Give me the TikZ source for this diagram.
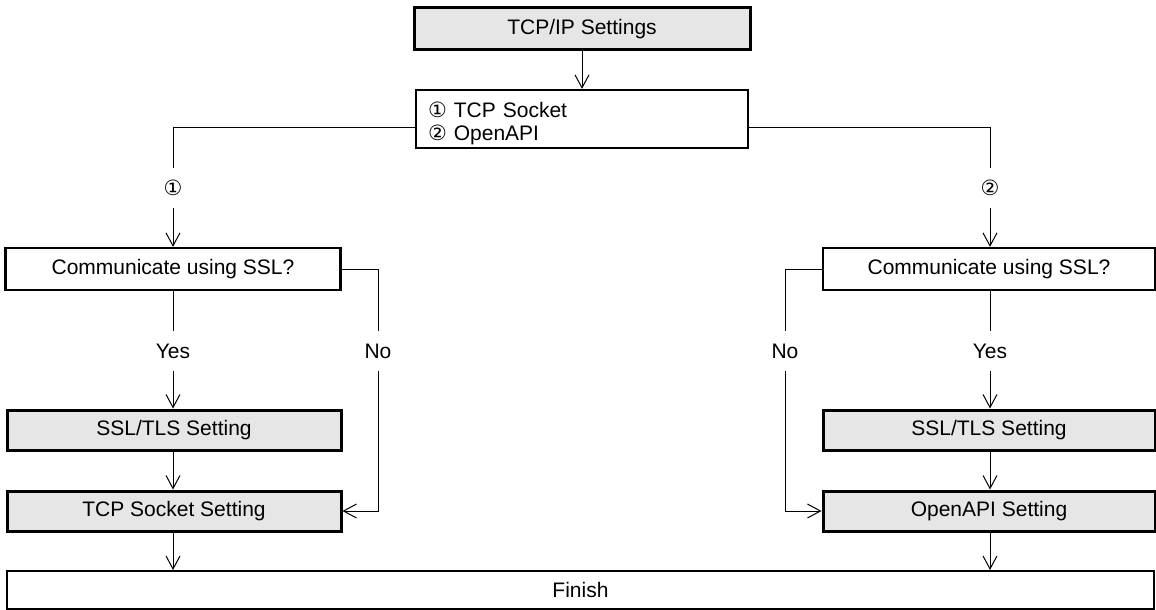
\documentclass[tikz,border=0pt]{standalone}
\usepackage{fontspec}
\setmainfont{Liberation Sans}
\newfontfamily\circfont{DejaVu Sans}
\usetikzlibrary{arrows.meta,positioning}
\definecolor{setgray}{HTML}{E6E6E6}
\tikzset{
  setbox/.style={rectangle, draw, line width=1.5pt, fill=setgray, inner sep=0pt, minimum height=20pt},
  askbox/.style={rectangle, draw, line width=1.1pt, fill=white, inner sep=0pt, minimum height=21pt},
  lbl/.style={inner sep=0pt, minimum height=20pt},
  wire/.style={line width=0.5pt},
  flow/.style={-{Straight Barb[length=6.5pt,width=7pt]}, line width=0.5pt},
}
\newcommand{\one}{{\circfont ①}}
\newcommand{\two}{{\circfont ②}}

\begin{document}
\begin{tikzpicture}[x=0.5pt, y=-0.5pt, font=\fontsize{10.5pt}{12.6pt}\selectfont]
  \useasboundingbox (0,0) rectangle (1156,610);
  \node[setbox, minimum width=168pt, minimum height=21pt] (ipset) at (582,29) {TCP/IP Settings};
  \node[askbox, minimum height=29pt, text width=154pt, inner xsep=6pt, align=left,
        font=\fontsize{10.5pt}{11.5pt}\selectfont] (opts) at (582,119)
        {\rule{0pt}{12.5pt}\one\ TCP Socket\\ \two\ OpenAPI};
  \coordinate (lsplit) at (173,128);
  \coordinate (rsplit) at (990,128);
  \node[lbl] (n1) at (173,188) {\one};
  \node[lbl] (n2) at (990,188) {\two};
  \node[askbox, minimum width=167.5pt] (q1) at (173,269) {Communicate using SSL?};
  \node[askbox, minimum width=166pt] (q2) at (989,269) {Communicate using SSL?};
  \node[lbl] (yes1) at (173,351) {Yes};
  \node[lbl] (no1) at (378,351) {No};
  \node[lbl] (no2) at (785,351) {No};
  \node[lbl] (yes2) at (990,351) {Yes};
  \node[setbox, minimum width=167pt] (ssl1) at (174,430) {SSL/TLS Setting};
  \node[setbox, minimum width=166pt] (ssl2) at (989,430) {SSL/TLS Setting};
  \node[setbox, minimum width=167pt] (sock) at (174,511) {TCP Socket Setting};
  \node[setbox, minimum width=166pt] (api) at (989,511) {OpenAPI Setting};
  \node[askbox, minimum width=573.5pt, minimum height=19pt, line width=1pt] (fin) at (580.5,590) {Finish};

  \draw[flow] (ipset) -- (opts);
  \draw[wire] (lsplit -| opts.west) -- (lsplit) -- (n1);
  \draw[wire] (rsplit -| opts.east) -- (rsplit) -- (n2);
  \draw[flow] (n1) -- (n1 |- q1.north);
  \draw[flow] (n2) -- (n2 |- q2.north);
  \draw[wire] (q1) -- (yes1);
  \draw[wire] (q2.south -| yes2) -- (yes2);
  \draw[flow] (yes1) -- (yes1 |- ssl1.north);
  \draw[flow] (yes2) -- (yes2 |- ssl2.north);
  \draw[wire] (q1.east) -| (no1);
  \draw[wire] (q2.west) -| (no2);
  \draw[flow] (no1) |- (sock.east);
  \draw[flow] (no2) |- (api.west);
  \draw[flow] (ssl1.south -| yes1) -- (yes1 |- sock.north);
  \draw[flow] (ssl2.south -| yes2) -- (yes2 |- api.north);
  \draw[flow] (sock.south -| yes1) -- (yes1 |- fin.north);
  \draw[flow] (api.south -| yes2) -- (yes2 |- fin.north);
\end{tikzpicture}
\end{document}
